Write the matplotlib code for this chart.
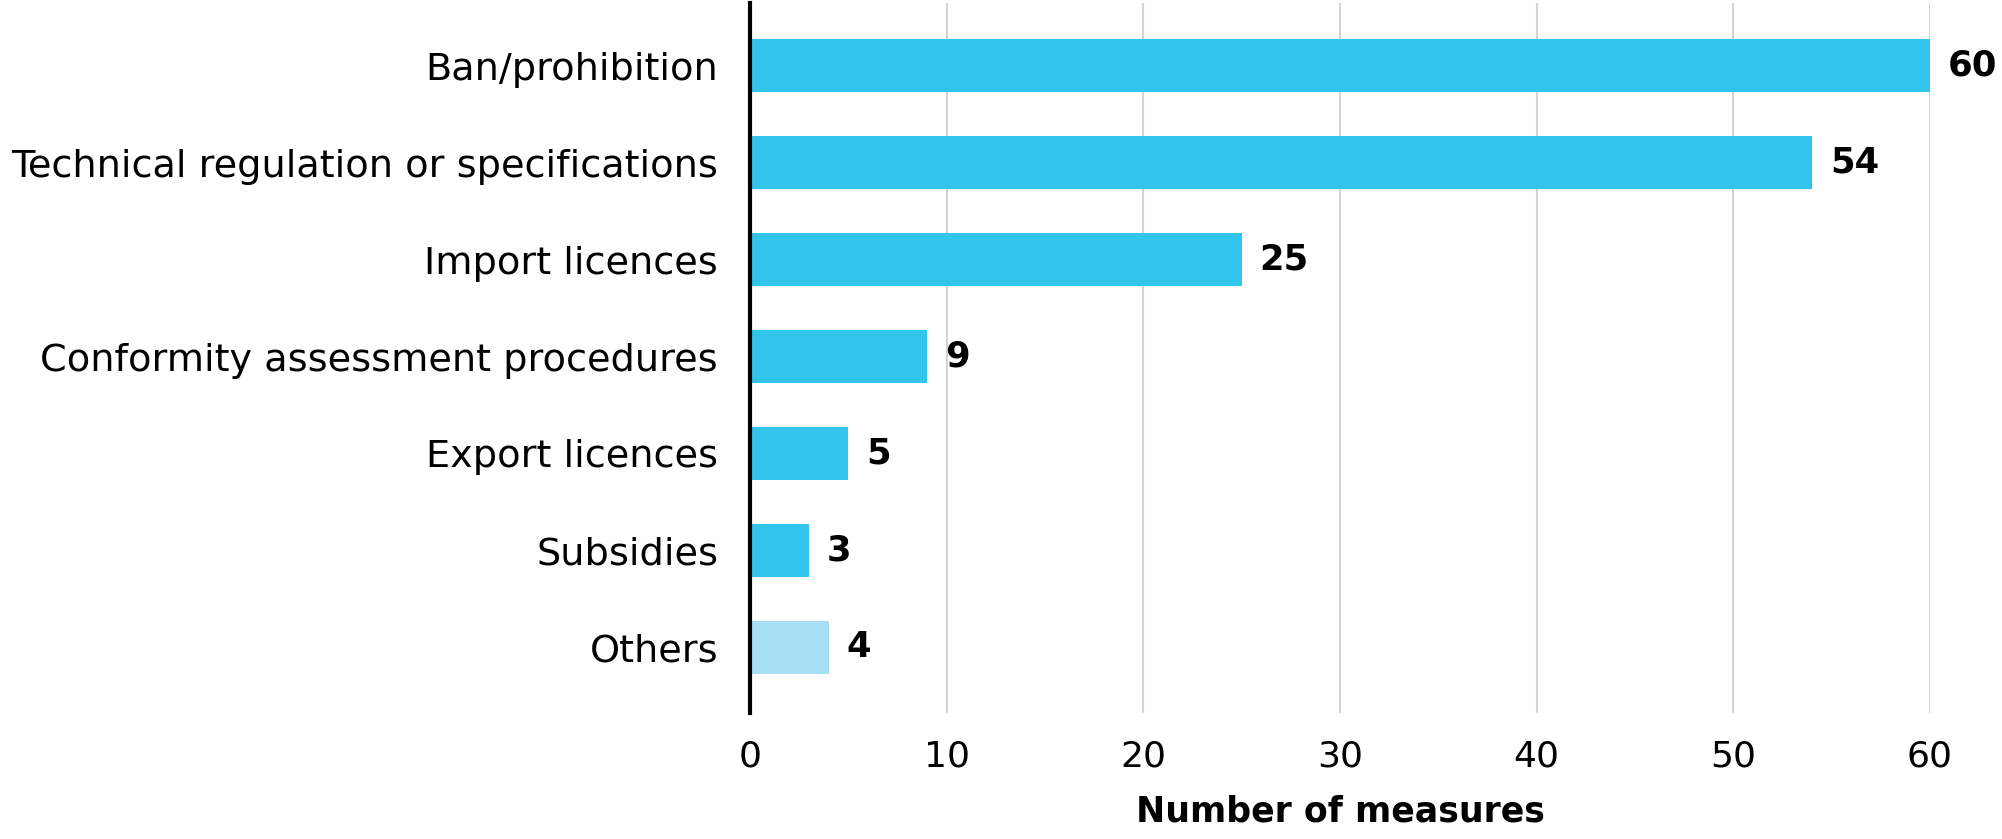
import matplotlib.pyplot as plt

# Dati del grafico
categorie = ['Ban/prohibition', 'Technical regulation or specifications',
             'Import licences', 'Conformity assessment procedures',
             'Export licences', 'Subsidies', 'Others']
valori = [60, 54, 25, 9, 5, 3, 4]
colori = ['#33c4ec'] * 6 + ['#a8dff4']
tick_x = [0, 10, 20, 30, 40, 50, 60]

plt.rcParams['font.family'] = ['DejaVu Sans']

fig = plt.figure(figsize=(20.02, 8.39), dpi=100)
ax = fig.add_axes([0.3746, 0.150, 0.5894, 0.8466])

y = list(range(len(categorie)))
ax.barh(y, valori, height=0.55, color=colori, zorder=2)

# etichette dei valori
for yi, v in zip(y, valori):
    ax.annotate(str(v), (v, yi), xytext=(13, 0), textcoords='offset points',
                va='center', ha='left', fontsize=25.5, fontweight='bold')

ax.set_yticks(y)
ax.set_yticklabels(categorie, fontsize=27.5)
ax.set_xticks(tick_x)
ax.set_xticklabels([str(t) for t in tick_x], fontsize=26)
ax.set_xlim(0, 60)
ax.set_ylim(6.68, -0.65)

ax.tick_params(axis='both', length=0)
ax.tick_params(axis='y', pad=23)
ax.tick_params(axis='x', pad=19)

ax.grid(axis='x', color='#d4d4d4', linewidth=1.5, zorder=0)
ax.set_axisbelow(True)
for s in ['top', 'right', 'bottom']:
    ax.spines[s].set_visible(False)
ax.spines['left'].set_linewidth(3)
ax.spines['left'].set_zorder(3)

ax.set_xlabel('Number of measures', fontsize=25, fontweight='bold', labelpad=15)

fig.savefig('out.png', dpi=100)
